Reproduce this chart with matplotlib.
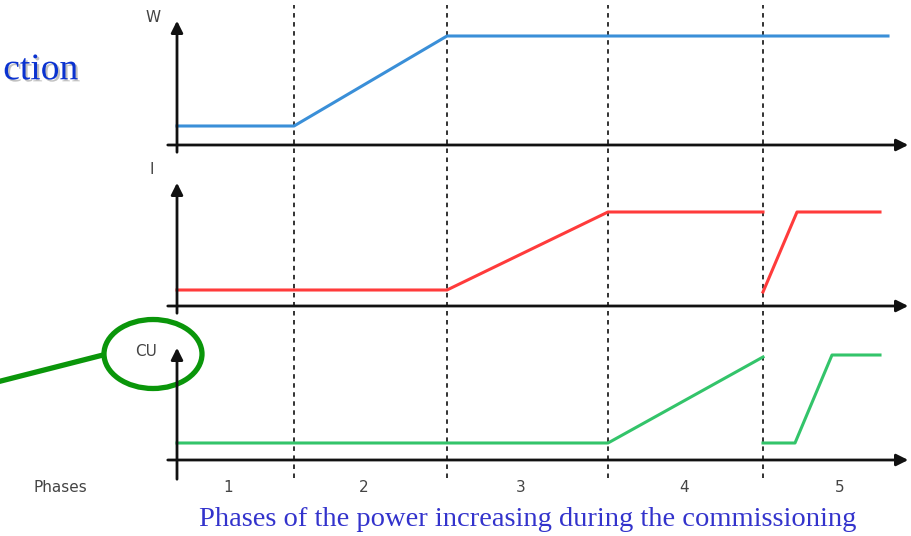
import matplotlib.pyplot as plt
import matplotlib.patheffects as pe
from matplotlib.patches import Ellipse

# time axis (arbitrary units) and phase boundaries
phase_edges = [117, 270, 431, 586]
phase_labels = ["1", "2", "3", "4", "5"]
phase_mid = [51, 187, 344, 507, 663]

# W (power)
w_t = [0, 117, 270, 711]
w_v = [19, 19, 109, 109]

# I (current) - two segments
i_t = [0, 270, 431, 586]
i_v = [16, 16, 94, 94]
i2_t = [586, 620, 703]
i2_v = [14, 94, 94]

# CU - two segments
cu_t = [0, 431, 586]
cu_v = [17, 17, 103]
cu2_t = [586, 618, 655, 703]
cu2_v = [17, 17, 105, 105]

fig = plt.figure(figsize=(9.11, 5.36), dpi=100)
ax = fig.add_axes([0, 0, 1, 1])
ax.set_xlim(-177, 734)
ax.set_ylim(0, 536)
ax.axis("off")

base_w, base_i, base_cu = 391, 230, 76

# dashed phase separators
for x in phase_edges:
    ax.plot([x, x], [58, 531], color="#222222", lw=1.3, ls=(0, (2.5, 2.5)))

def draw_axes(base, top, tail, label, lx, ly):
    ax.annotate("", xy=(734, base), xytext=(-12, base),
                arrowprops=dict(arrowstyle="-|>,head_length=0.7,head_width=0.35",
                                color="#111111", lw=2))
    ax.annotate("", xy=(0, base + top), xytext=(0, base - tail),
                arrowprops=dict(arrowstyle="-|>,head_length=0.7,head_width=0.35",
                                color="#111111", lw=2))
    ax.text(lx, base + ly, label, fontsize=11, color="#444444",
            ha="center", va="center")

draw_axes(base_w, 127, 10, "W", -24, 128)
draw_axes(base_i, 126, 10, "I", -25, 136)
draw_axes(base_cu, 115, 22, "CU", -31, 108)

ax.plot(w_t, [base_w + v for v in w_v], color="#3a8fd8", lw=2.2)
ax.plot(i_t, [base_i + v for v in i_v], color="#ff3b3b", lw=2.2)
ax.plot(i2_t, [base_i + v for v in i2_v], color="#ff3b3b", lw=2.2)
ax.plot(cu_t, [base_cu + v for v in cu_v], color="#33c46a", lw=2.2)
ax.plot(cu2_t, [base_cu + v for v in cu2_v], color="#33c46a", lw=2.2)

ax.text(-117, 49, "Phases", fontsize=11, color="#444444", ha="center", va="center")
for m, lab in zip(phase_mid, phase_labels):
    ax.text(m, 49, lab, fontsize=11, color="#444444", ha="center", va="center")

ax.text(351, 16, "Phases of the power increasing during the commissioning",
        fontsize=20.5, family="Liberation Serif", color="#3333cc",
        ha="center", va="center")

# partial title at top left, with shadow
ax.text(-99, 466, "ction", fontsize=27, family="Liberation Serif",
        color="#0a32d0", ha="right", va="center",
        path_effects=[pe.SimplePatchShadow(offset=(1.5, -1.5), shadow_rgbFace="#999999", alpha=0.6),
                      pe.Normal()])

# green highlight
ax.add_patch(Ellipse((-24, 182), 98, 69, fill=False, ec="#0a960a", lw=3.8))
ax.plot([-180, -74], [154, 181], color="#0a960a", lw=3.8, solid_capstyle="butt")

fig.savefig("out.png", dpi=100)
